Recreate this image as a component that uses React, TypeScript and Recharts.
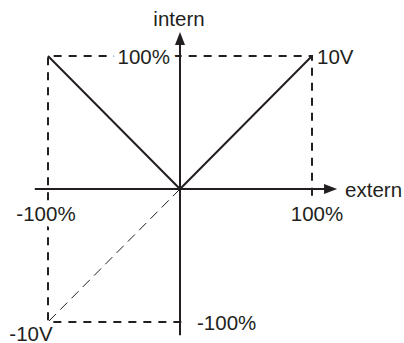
import React from "react";
import { ComposedChart, Line, XAxis, YAxis, ReferenceLine, ReferenceDot } from "recharts";

// characteristic: intern vs extern (percent of range)
const vCurve = [
  { x: -100, y: 100 },
  { x: 0, y: 0 },
  { x: 100, y: 100 },
];
const negBranch = [
  { x: 0, y: 0 },
  { x: -100, y: -100 },
];
// dashed limits frame (right tick -> top -> left -> bottom tick)
const frame = [
  { x: 100, y: -5 },
  { x: 100, y: 100 },
  { x: -100, y: 100 },
  { x: -100, y: -100 },
  { x: 4, y: -100 },
];
const xAxisLine = [{ x: -110, y: 0 }, { x: 119, y: 0 }];
const yAxisLine = [{ x: 0, y: -110 }, { x: 0, y: 118 }];

const labels = [
  { x: 0, y: 118, text: "intern", dx: -1, dy: -14, anchor: "middle", halo: false },
  { x: 119, y: 0, text: "extern", dx: 8, dy: 0, anchor: "start", halo: false },
  { x: 0, y: 100, text: "100%", dx: -10, dy: 0, anchor: "end", halo: true },
  { x: 100, y: 100, text: "10V", dx: 5, dy: 0, anchor: "start", halo: false },
  { x: -100, y: 0, text: "-100%", dx: -2, dy: 24, anchor: "middle", halo: true },
  { x: 100, y: 0, text: "100%", dx: 5, dy: 24, anchor: "middle", halo: false },
  { x: -100, y: -100, text: "-10V", dx: -17, dy: 11, anchor: "middle", halo: false },
  { x: 0, y: -100, text: "-100%", dx: 17, dy: 0, anchor: "start", halo: false },
];

const INK = "#231f20";
const FONT = "'Liberation Sans', Arial, Helvetica, sans-serif";

function Arrow(props: any) {
  const { x1, y1, x2, y2 } = props;
  const dx = x2 - x1;
  const dy = y2 - y1;
  const len = Math.sqrt(dx * dx + dy * dy) || 1;
  const ux = dx / len;
  const uy = dy / len;
  const head = 13;
  const half = 5;
  const bx = x2 - ux * head;
  const by = y2 - uy * head;
  return (
    <g>
      <line x1={x1} y1={y1} x2={x2 - ux * 6} y2={y2 - uy * 6} stroke={INK} strokeWidth={2} />
      <polygon
        points={`${x2},${y2} ${bx - uy * half},${by + ux * half} ${bx + uy * half},${by - ux * half}`}
        fill={INK}
      />
    </g>
  );
}

function makeLabel(l: any) {
  return (p: any) => (
    <text
      x={p.cx + l.dx}
      y={p.cy + l.dy}
      textAnchor={l.anchor}
      dominantBaseline="central"
      fontFamily={FONT}
      fontSize={20.5}
      fill={INK}
      stroke={l.halo ? "#fff" : "none"}
      strokeWidth={l.halo ? 12 : 0}
      strokeLinejoin="round"
      paintOrder="stroke"
    >
      {l.text}
    </text>
  );
}

export default function App() {
  return (
    <div style={{ position: "absolute", left: 0, top: 0, background: "#fff" }}>
      <ComposedChart width={404} height={343} margin={{ top: 56, right: 92, bottom: 21, left: 48 }}>
        <XAxis type="number" dataKey="x" domain={[-100, 100]} hide />
        <YAxis type="number" dataKey="y" domain={[-100, 100]} hide />
        <ReferenceLine segment={xAxisLine} ifOverflow="visible" shape={Arrow} />
        <ReferenceLine segment={yAxisLine} ifOverflow="visible" shape={Arrow} />
        <Line
          data={frame}
          dataKey="y"
          stroke={INK}
          strokeWidth={2}
          strokeDasharray="8 7"
          dot={false}
          isAnimationActive={false}
        />
        <Line
          data={negBranch}
          dataKey="y"
          stroke={INK}
          strokeWidth={1}
          strokeDasharray="10 6"
          dot={false}
          isAnimationActive={false}
        />
        <Line
          data={vCurve}
          dataKey="y"
          stroke={INK}
          strokeWidth={2}
          dot={false}
          isAnimationActive={false}
        />
        {labels.map((l, i) => (
          <ReferenceDot key={i} x={l.x} y={l.y} ifOverflow="visible" shape={makeLabel(l)} />
        ))}
      </ComposedChart>
    </div>
  );
}
